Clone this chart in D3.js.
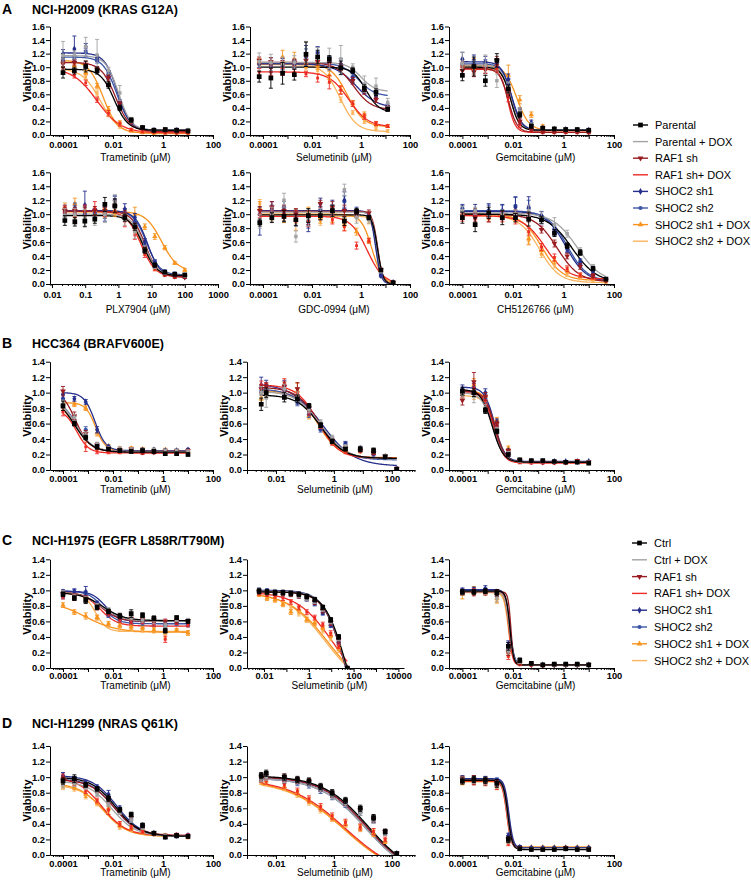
<!DOCTYPE html>
<html><head><meta charset="utf-8">
<script src="https://cdn.jsdelivr.net/npm/d3@7"></script>
<style>body{margin:0;background:#fff}svg{display:block}</style>
</head><body><svg id="c" width="751" height="884"></svg>
<script>
// ---------- series ----------
const seriesA = ["Parental","Parental + DOX","RAF1 sh","RAF1 sh+ DOX","SHOC2 sh1","SHOC2 sh2","SHOC2 sh1 + DOX","SHOC2 sh2 + DOX"];
const seriesC = ["Ctrl","Ctrl + DOX","RAF1 sh","RAF1 sh+ DOX","SHOC2 sh1","SHOC2 sh2","SHOC2 sh1 + DOX","SHOC2 sh2 + DOX"];
const colors = ["#000000","#a3a3a3","#9a1c20","#ee2b25","#262f8c","#3d57a7","#f7931e","#fbb45e"];
const legendMarker = ["square",null,"tri",null,"diamond","circle","star",null];
const plotMarker = ["square","square","tri","dash","diamond","circle","star","dash"];

// ---------- tick labels ----------
const yTicks16 = [0,0.2,0.4,0.6,0.8,1.0,1.2,1.4,1.6];
const yTicks14 = [0,0.2,0.4,0.6,0.8,1.0,1.2,1.4];
const xLabTram = [0.0001,0.01,1,100];
const xLabPLX = [0.01,0.1,1,10,100,1000];
const xLabSelB = [0.01,1,100];
const xLabSelC = [0.01,1,100,10000];

// ---------- doses ----------
const doseTram = [0.0001,0.000285,0.000811,0.00231,0.00658,0.0187,0.0534,0.152,0.433,1.23,3.51,10];
const doseSelA = [0.00007,0.00021,0.00063,0.0019,0.0057,0.017,0.051,0.15,0.46,1.37,4.1,12.3];
const dosePLX = [0.0244,0.0488,0.0977,0.195,0.391,0.781,1.56,3.13,6.25,12.5,25,50,100];
const doseGDC = [0.000074,0.00023,0.00072,0.0022,0.0071,0.022,0.068,0.21,0.66,2.1,6.5,20.4];
const doseCH = [0.0001,0.00032,0.0011,0.0038,0.0126,0.042,0.135,0.44,1.4,4.6,14.8,48];
const doseSelB = [0.0031,0.0046,0.0195,0.055,0.138,0.347,0.871,2.51,8.13,23.4,58.9,148];
const doseSelC = [0.006,0.0136,0.031,0.07,0.158,0.36,0.81,1.84,4.2,9.5,21.5,52];

// ---------- values (order: series list) ----------
const a1Val = [
 [0.92,0.95,1.01,0.95,0.74,0.40,0.22,0.11,0.07,0.08,0.07,0.06],
 [1.17,1.18,1.30,1.18,0.95,0.62,0.22,0.12,0.08,0.09,0.08,0.07],
 [1.05,1.07,1.04,0.97,0.85,0.46,0.20,0.10,0.06,0.06,0.05,0.05],
 [0.97,0.88,0.77,0.52,0.32,0.16,0.08,0.05,0.04,0.03,0.03,0.03],
 [1.20,1.27,1.30,1.13,0.88,0.45,0.20,0.10,0.07,0.07,0.07,0.06],
 [1.10,1.12,1.22,1.10,0.90,0.48,0.22,0.11,0.07,0.07,0.07,0.06],
 [1.10,1.02,0.92,0.72,0.38,0.18,0.07,0.04,0.03,0.04,0.05,0.05],
 [0.98,0.94,0.85,0.62,0.30,0.12,0.05,0.03,0.02,0.02,0.02,0.02]];
const a1Err = [
 [0.08,0.05,0.08,0.05,0.05,0.04,0.03,0.02,0.02,0.02,0.02,0.02],
 [0.21,0.06,0.14,0.23,0.05,0.11,0.04,0.02,0.02,0.02,0.02,0.02],
 [0.04,0.04,0.05,0.04,0.04,0.04,0.03,0.02,0.02,0.02,0.02,0.02],
 [0.03,0.04,0.04,0.04,0.04,0.03,0.02,0.02,0.01,0.01,0.01,0.01],
 [0.06,0.19,0.05,0.04,0.05,0.04,0.03,0.02,0.02,0.02,0.02,0.02],
 [0.05,0.04,0.06,0.04,0.05,0.04,0.03,0.02,0.02,0.02,0.02,0.02],
 [0.03,0.03,0.03,0.04,0.04,0.03,0.02,0.01,0.01,0.01,0.01,0.01],
 [0.02,0.02,0.03,0.03,0.03,0.02,0.01,0.01,0.01,0.01,0.01,0.01]];
const a1Fit = [[0.97,0.07,-1.95,1.6],[1.17,0.07,-1.78,1.7],[1.07,0.05,-1.9,1.5],[0.99,0.03,-2.65,0.9],[1.21,0.06,-1.82,1.7],[1.15,0.07,-1.85,1.6],[1.1,0.03,-2.4,1.5],[0.98,0.02,-2.5,1.2]];

const a2Val = [
 [0.86,0.84,0.91,0.89,1.19,1.15,1.12,0.99,0.95,0.69,0.63,0.38],
 [1.08,1.07,1.05,1.07,1.20,1.17,1.13,1.12,1.00,0.75,0.72,0.48],
 [1.10,1.08,1.05,1.07,1.10,1.08,1.06,1.00,0.80,0.65,0.52,0.40],
 [0.93,0.93,0.93,0.92,0.90,0.84,0.78,0.66,0.46,0.27,0.17,0.13],
 [1.05,1.04,1.05,1.05,1.17,1.20,1.06,1.05,0.82,0.66,0.60,0.40],
 [1.05,1.00,1.02,1.04,1.15,1.22,1.08,1.02,0.85,0.70,0.58,0.42],
 [1.08,1.05,1.15,1.12,1.05,1.02,0.88,0.67,0.47,0.30,0.16,0.13],
 [1.04,1.03,1.04,1.03,1.00,0.95,0.80,0.52,0.33,0.20,0.10,0.06]];
const a2Err = [
 [0.08,0.15,0.16,0.08,0.18,0.10,0.05,0.10,0.04,0.05,0.05,0.03],
 [0.13,0.12,0.10,0.10,0.18,0.12,0.15,0.20,0.05,0.12,0.12,0.06],
 [0.05,0.06,0.05,0.05,0.06,0.05,0.05,0.05,0.05,0.05,0.04,0.03],
 [0.05,0.05,0.05,0.05,0.04,0.06,0.10,0.06,0.04,0.04,0.03,0.02],
 [0.06,0.10,0.08,0.06,0.15,0.10,0.10,0.08,0.05,0.05,0.05,0.04],
 [0.06,0.08,0.08,0.06,0.12,0.08,0.08,0.10,0.05,0.05,0.05,0.04],
 [0.05,0.05,0.10,0.10,0.06,0.05,0.06,0.06,0.04,0.04,0.03,0.02],
 [0.04,0.04,0.04,0.04,0.04,0.04,0.04,0.04,0.03,0.03,0.02,0.02]];
const a2Fit = [[1.0,0.33,0.2,1.6],[1.07,0.64,0.0,1.5],[1.07,0.37,-0.3,1.2],[0.93,0.12,-0.5,1.1],[1.05,0.4,-0.2,1.0],[1.06,0.57,-0.1,1.3],[1.05,0.12,-0.55,1.3],[1.04,0.05,-0.85,1.3]];

const a3Val = [
 [0.88,1.01,0.80,1.10,0.68,0.30,0.13,0.10,0.09,0.08,0.08,0.07],
 [1.05,1.00,1.03,0.80,0.70,0.35,0.15,0.10,0.09,0.08,0.08,0.07],
 [0.95,0.93,0.97,1.10,0.62,0.20,0.08,0.05,0.05,0.05,0.05,0.04],
 [0.95,0.95,0.96,0.98,0.55,0.15,0.06,0.04,0.04,0.04,0.04,0.04],
 [1.12,1.10,1.08,1.05,0.82,0.35,0.18,0.10,0.08,0.08,0.07,0.07],
 [1.05,1.05,1.05,1.00,0.75,0.33,0.15,0.10,0.08,0.08,0.07,0.07],
 [1.02,1.05,1.02,1.00,0.88,0.52,0.30,0.13,0.09,0.08,0.07,0.07],
 [1.00,1.00,1.00,0.98,0.78,0.35,0.15,0.08,0.07,0.06,0.06,0.06]];
const a3Err = [
 [0.08,0.14,0.08,0.10,0.06,0.04,0.03,0.02,0.02,0.02,0.02,0.02],
 [0.17,0.10,0.15,0.10,0.08,0.05,0.03,0.02,0.02,0.02,0.02,0.02],
 [0.08,0.07,0.06,0.06,0.06,0.04,0.02,0.02,0.02,0.02,0.02,0.02],
 [0.05,0.05,0.05,0.05,0.06,0.04,0.02,0.02,0.02,0.02,0.02,0.02],
 [0.10,0.08,0.08,0.06,0.08,0.05,0.04,0.02,0.02,0.02,0.02,0.02],
 [0.06,0.06,0.06,0.06,0.08,0.05,0.03,0.02,0.02,0.02,0.02,0.02],
 [0.06,0.08,0.06,0.06,0.15,0.06,0.04,0.02,0.02,0.02,0.02,0.02],
 [0.04,0.04,0.04,0.04,0.06,0.04,0.03,0.02,0.02,0.02,0.02,0.02]];
const a3Fit = [[1.0,0.07,-2.1,2.5],[1.02,0.07,-2.1,2.5],[0.98,0.04,-2.18,2.5],[0.97,0.04,-2.2,3],[1.08,0.07,-2.05,2.2],[1.05,0.07,-2.05,2.3],[1.03,0.07,-1.85,1.8],[1.0,0.06,-2.05,2.2]];

const a4Val = [
 [0.91,0.89,0.90,0.93,1.14,1.12,0.95,0.82,0.48,0.27,0.17,0.14,0.13],
 [0.98,1.00,0.95,0.92,1.00,1.18,0.92,0.75,0.50,0.25,0.16,0.14,0.12],
 [1.05,1.05,1.03,1.05,1.05,1.10,1.00,0.82,0.50,0.25,0.14,0.11,0.10],
 [1.07,1.02,1.05,1.08,1.03,1.12,0.90,0.70,0.42,0.22,0.13,0.10,0.10],
 [1.05,1.02,1.13,1.00,1.00,1.18,1.07,0.95,0.60,0.30,0.16,0.12,0.10],
 [1.02,1.08,1.00,1.02,1.02,1.20,1.02,0.90,0.55,0.32,0.18,0.15,0.13],
 [1.10,1.15,1.05,1.05,1.02,1.05,1.02,1.00,0.82,0.68,0.52,0.30,0.20],
 [1.00,0.98,1.00,0.98,1.00,1.05,0.95,0.78,0.45,0.22,0.14,0.12,0.11]];
const a4Err = [
 [0.07,0.06,0.08,0.06,0.10,0.10,0.05,0.05,0.04,0.03,0.02,0.02,0.02],
 [0.10,0.08,0.12,0.08,0.12,0.10,0.08,0.10,0.05,0.03,0.02,0.02,0.02],
 [0.05,0.05,0.06,0.06,0.05,0.06,0.05,0.05,0.04,0.03,0.02,0.02,0.02],
 [0.05,0.06,0.08,0.10,0.06,0.08,0.08,0.06,0.04,0.03,0.02,0.02,0.02],
 [0.08,0.10,0.20,0.08,0.10,0.08,0.08,0.06,0.05,0.03,0.02,0.02,0.02],
 [0.06,0.08,0.10,0.06,0.08,0.06,0.06,0.06,0.05,0.03,0.02,0.02,0.02],
 [0.06,0.08,0.06,0.06,0.06,0.08,0.06,0.10,0.04,0.04,0.03,0.02,0.02],
 [0.05,0.05,0.05,0.05,0.05,0.05,0.05,0.05,0.04,0.03,0.02,0.02,0.02]];
const a4Fit = [[0.98,0.12,0.75,2.2],[1.0,0.12,0.78,2.2],[1.04,0.1,0.8,2.2],[1.04,0.1,0.68,2.0],[1.05,0.1,0.88,2.3],[1.05,0.13,0.85,2.2],[1.04,0.18,1.3,1.8],[1.03,0.12,0.72,2.0]];

const a5Val = [
 [0.88,0.95,0.97,0.92,0.98,0.98,1.05,0.90,1.04,0.95,0.20,0.02],
 [0.90,1.00,1.20,0.68,0.95,1.00,1.05,1.35,0.95,0.92,0.18,0.02],
 [1.05,1.10,1.05,1.00,0.95,1.15,1.10,1.05,1.00,1.02,0.20,0.02],
 [1.00,1.00,1.00,0.97,0.90,0.98,0.92,0.82,0.55,0.62,0.20,0.02],
 [0.88,1.08,1.00,0.93,0.85,1.15,1.10,1.20,1.05,0.98,0.12,0.02],
 [1.00,1.05,1.10,0.98,0.90,1.05,1.05,1.18,1.02,0.95,0.13,0.02],
 [1.08,1.02,0.98,0.92,1.00,0.95,0.98,0.85,0.75,0.62,0.20,0.02],
 [1.15,0.96,0.97,0.93,0.97,0.90,0.95,0.88,0.95,0.90,0.18,0.02]];
const a5Err = [
 [0.05,0.07,0.08,0.08,0.10,0.06,0.08,0.06,0.04,0.03,0.02,0.01],
 [0.10,0.10,0.10,0.08,0.12,0.08,0.08,0.08,0.08,0.05,0.02,0.01],
 [0.06,0.08,0.08,0.08,0.10,0.05,0.08,0.08,0.05,0.04,0.02,0.01],
 [0.05,0.06,0.06,0.08,0.08,0.06,0.06,0.06,0.05,0.03,0.02,0.01],
 [0.18,0.10,0.10,0.10,0.10,0.08,0.10,0.12,0.05,0.04,0.02,0.01],
 [0.10,0.08,0.08,0.08,0.10,0.06,0.08,0.08,0.05,0.04,0.02,0.01],
 [0.10,0.08,0.10,0.15,0.10,0.08,0.10,0.08,0.05,0.04,0.02,0.01],
 [0.06,0.06,0.06,0.06,0.06,0.06,0.06,0.06,0.05,0.04,0.02,0.01]];
const a5Fit = [[0.99,0,0.68,4],[1.03,0,0.66,4],[1.04,0,0.68,4],[0.97,0,0.25,1.3],[1.05,0,0.6,4],[1.04,0,0.62,4],[1.0,0,0.45,2],[0.97,0,0.65,4]];

const a6Val = [
 [0.95,0.85,1.02,0.95,0.95,0.93,0.92,0.73,0.55,0.45,0.22,0.07],
 [1.05,1.05,1.00,1.00,1.00,1.05,0.95,0.85,0.72,0.48,0.25,0.07],
 [0.98,0.95,0.95,0.98,1.00,0.95,0.78,0.58,0.40,0.25,0.12,0.05],
 [0.95,0.98,0.95,0.95,0.92,0.75,0.53,0.38,0.22,0.13,0.09,0.07],
 [1.05,1.06,1.05,1.04,1.10,1.10,0.98,0.75,0.50,0.32,0.15,0.06],
 [1.08,1.00,1.05,1.05,1.12,1.08,0.92,0.78,0.52,0.30,0.14,0.07],
 [1.00,1.02,0.98,1.00,0.95,0.65,0.48,0.34,0.20,0.12,0.08,0.05],
 [0.98,0.98,0.97,0.97,0.95,0.62,0.42,0.27,0.14,0.08,0.04,0.02]];
const a6Err = [
 [0.08,0.10,0.08,0.10,0.06,0.10,0.05,0.05,0.04,0.04,0.03,0.02],
 [0.06,0.05,0.05,0.06,0.06,0.08,0.08,0.10,0.05,0.04,0.03,0.02],
 [0.05,0.06,0.06,0.06,0.06,0.06,0.05,0.05,0.04,0.04,0.03,0.02],
 [0.05,0.06,0.06,0.06,0.06,0.05,0.05,0.05,0.04,0.03,0.02,0.02],
 [0.08,0.08,0.10,0.10,0.15,0.15,0.06,0.05,0.05,0.04,0.03,0.02],
 [0.06,0.06,0.08,0.08,0.12,0.12,0.06,0.05,0.05,0.04,0.03,0.02],
 [0.05,0.06,0.06,0.06,0.06,0.08,0.05,0.05,0.04,0.03,0.02,0.02],
 [0.04,0.04,0.04,0.04,0.04,0.06,0.04,0.04,0.03,0.02,0.02,0.02]];
const a6Fit = [[1.0,0.02,0.35,0.9],[1.02,0.02,0.55,0.9],[1.0,0.03,-0.25,1.0],[0.98,0.07,-0.72,1.0],[1.04,0.03,0.1,1.1],[1.05,0.04,0.15,1.1],[1.0,0.05,-0.85,1.1],[0.98,0.02,-0.95,1.1]];

const b1Val = [
 [0.83,0.60,0.42,0.30,0.27,0.25,0.24,0.25,0.24,0.21,0.21,0.20],
 [0.85,0.68,0.45,0.33,0.28,0.27,0.26,0.26,0.26,0.25,0.25,0.24],
 [1.02,0.70,0.47,0.32,0.28,0.26,0.27,0.23,0.23,0.24,0.24,0.25],
 [0.75,0.65,0.30,0.24,0.23,0.23,0.26,0.22,0.24,0.23,0.24,0.24],
 [0.98,0.92,0.88,0.52,0.30,0.26,0.26,0.26,0.26,0.25,0.25,0.26],
 [0.92,0.65,0.52,0.32,0.28,0.26,0.27,0.25,0.25,0.24,0.24,0.25],
 [0.85,0.85,0.80,0.48,0.30,0.28,0.28,0.27,0.26,0.26,0.25,0.25],
 [0.80,0.65,0.45,0.30,0.27,0.25,0.25,0.26,0.25,0.25,0.24,0.25]];
const b1Err = [
 [0.06,0.03,0.03,0.03,0.02,0.02,0.02,0.02,0.02,0.02,0.02,0.02],
 [0.05,0.04,0.04,0.03,0.02,0.03,0.03,0.02,0.02,0.02,0.02,0.02],
 [0.06,0.05,0.04,0.03,0.02,0.02,0.02,0.02,0.02,0.02,0.02,0.02],
 [0.05,0.05,0.06,0.03,0.02,0.02,0.03,0.02,0.02,0.02,0.02,0.02],
 [0.05,0.03,0.03,0.04,0.02,0.02,0.02,0.02,0.02,0.02,0.02,0.02],
 [0.06,0.04,0.04,0.03,0.02,0.02,0.02,0.02,0.02,0.02,0.02,0.02],
 [0.05,0.03,0.03,0.04,0.03,0.02,0.02,0.02,0.02,0.02,0.02,0.02],
 [0.04,0.04,0.04,0.03,0.02,0.02,0.02,0.02,0.02,0.02,0.02,0.02]];
const b1Fit = [[0.95,0.23,-3.55,1.2],[0.95,0.24,-3.5,1.3],[1.05,0.24,-3.5,1.5],[0.78,0.22,-3.45,1.8],[1.0,0.25,-2.72,2.0],[0.92,0.24,-3.45,1.4],[0.87,0.25,-2.7,2.2],[0.85,0.25,-3.45,1.5]];

const b2Val = [
 [0.85,1.00,0.94,0.92,0.83,0.58,0.37,0.27,0.27,0.25,0.17,0.01],
 [1.00,0.93,1.05,0.95,0.78,0.62,0.42,0.30,0.28,0.27,0.18,0.02],
 [1.05,1.08,1.08,1.05,0.80,0.58,0.38,0.28,0.25,0.22,0.18,0.02],
 [1.10,1.07,1.12,1.00,0.75,0.57,0.35,0.24,0.26,0.22,0.17,0.02],
 [1.10,1.10,1.10,0.90,0.75,0.55,0.40,0.33,0.28,0.22,0.17,0.02],
 [1.02,1.05,1.03,0.88,0.72,0.52,0.38,0.34,0.26,0.20,0.17,0.02],
 [0.92,1.05,1.05,1.02,0.70,0.55,0.36,0.25,0.25,0.23,0.18,0.02],
 [0.95,0.98,1.00,0.97,0.72,0.57,0.38,0.27,0.26,0.24,0.17,0.02]];
const b2Err = [
 [0.08,0.06,0.06,0.05,0.03,0.03,0.03,0.02,0.03,0.03,0.02,0.01],
 [0.08,0.12,0.06,0.06,0.04,0.03,0.03,0.03,0.03,0.02,0.02,0.01],
 [0.05,0.05,0.06,0.08,0.04,0.03,0.03,0.03,0.02,0.02,0.02,0.01],
 [0.05,0.05,0.06,0.06,0.04,0.03,0.03,0.03,0.02,0.02,0.02,0.01],
 [0.10,0.06,0.06,0.05,0.04,0.03,0.03,0.03,0.02,0.02,0.02,0.01],
 [0.05,0.05,0.05,0.05,0.04,0.03,0.03,0.03,0.02,0.02,0.02,0.01],
 [0.06,0.06,0.06,0.10,0.04,0.03,0.03,0.03,0.03,0.03,0.02,0.01],
 [0.05,0.05,0.05,0.05,0.04,0.03,0.03,0.03,0.02,0.02,0.02,0.01]];
const b2Fit = [[0.97,0.15,-0.45,1.1],[1.02,0.14,-0.45,1.0],[1.07,0.15,-0.5,1.1],[1.1,0.15,-0.55,1.2],[1.12,0.05,-0.4,0.8],[1.05,0.13,-0.5,1.0],[1.03,0.16,-0.55,1.2],[1.02,0.15,-0.5,1.1]];

const b3Val = [
 [1.02,1.00,0.77,0.50,0.20,0.13,0.12,0.12,0.11,0.10,0.10,0.09],
 [0.98,0.95,0.80,0.52,0.22,0.12,0.11,0.11,0.10,0.10,0.10,0.10],
 [0.90,1.14,0.95,0.60,0.25,0.12,0.11,0.10,0.10,0.10,0.12,0.10],
 [0.98,1.05,0.90,0.58,0.22,0.10,0.09,0.09,0.09,0.09,0.10,0.10],
 [1.05,1.07,1.00,0.62,0.25,0.12,0.11,0.11,0.11,0.11,0.11,0.11],
 [1.00,1.02,0.92,0.55,0.22,0.12,0.11,0.10,0.10,0.10,0.10,0.10],
 [0.98,1.10,0.95,0.65,0.28,0.12,0.11,0.11,0.10,0.10,0.10,0.10],
 [0.95,0.95,0.92,0.60,0.25,0.11,0.10,0.10,0.10,0.10,0.10,0.10]];
const b3Err = [
 [0.05,0.05,0.04,0.03,0.02,0.02,0.01,0.01,0.01,0.01,0.01,0.01],
 [0.05,0.08,0.05,0.03,0.02,0.02,0.01,0.01,0.01,0.01,0.01,0.01],
 [0.06,0.12,0.05,0.03,0.02,0.02,0.01,0.01,0.01,0.01,0.01,0.01],
 [0.05,0.06,0.05,0.03,0.02,0.02,0.01,0.01,0.01,0.01,0.01,0.01],
 [0.05,0.05,0.05,0.04,0.02,0.02,0.01,0.01,0.01,0.01,0.01,0.01],
 [0.04,0.04,0.05,0.03,0.02,0.02,0.01,0.01,0.01,0.01,0.01,0.01],
 [0.05,0.08,0.05,0.03,0.03,0.02,0.01,0.01,0.01,0.01,0.01,0.01],
 [0.04,0.04,0.04,0.03,0.02,0.02,0.01,0.01,0.01,0.01,0.01,0.01]];
const b3Fit = [[1.04,0.1,-2.82,2.0],[1.0,0.1,-2.8,2.0],[1.02,0.1,-2.72,2.2],[1.0,0.09,-2.75,2.3],[1.07,0.11,-2.72,2.2],[1.02,0.1,-2.76,2.2],[1.03,0.1,-2.7,2.2],[0.96,0.1,-2.72,2.2]];

const c1Val = [
 [0.95,0.90,0.87,0.78,0.73,0.67,0.70,0.68,0.64,0.48,0.65,0.60],
 [0.97,0.92,0.88,0.80,0.75,0.68,0.65,0.62,0.62,0.55,0.62,0.62],
 [0.96,0.93,0.90,0.80,0.72,0.66,0.64,0.63,0.62,0.60,0.60,0.61],
 [0.92,0.90,0.88,0.78,0.70,0.62,0.60,0.60,0.57,0.37,0.58,0.55],
 [0.98,0.98,0.98,0.83,0.70,0.64,0.60,0.62,0.60,0.58,0.60,0.60],
 [0.92,0.98,0.95,0.82,0.68,0.62,0.60,0.58,0.57,0.55,0.57,0.55],
 [0.81,0.72,0.67,0.65,0.57,0.55,0.53,0.52,0.49,0.47,0.49,0.45],
 [0.95,0.93,0.90,0.65,0.55,0.50,0.50,0.49,0.48,0.40,0.48,0.46]];
const c1Err = [
 [0.03,0.03,0.04,0.03,0.03,0.03,0.05,0.03,0.03,0.03,0.02,0.02],
 [0.03,0.03,0.04,0.03,0.03,0.03,0.03,0.03,0.05,0.03,0.02,0.02],
 [0.03,0.03,0.03,0.03,0.03,0.03,0.03,0.03,0.03,0.03,0.02,0.02],
 [0.03,0.03,0.03,0.03,0.03,0.03,0.03,0.03,0.03,0.04,0.02,0.02],
 [0.03,0.04,0.07,0.03,0.03,0.03,0.03,0.03,0.03,0.03,0.02,0.02],
 [0.03,0.03,0.04,0.03,0.03,0.03,0.03,0.03,0.03,0.03,0.02,0.02],
 [0.03,0.03,0.04,0.03,0.03,0.03,0.03,0.03,0.03,0.03,0.02,0.03],
 [0.03,0.03,0.03,0.03,0.03,0.03,0.03,0.03,0.03,0.03,0.02,0.02]];
const c1Fit = [[0.97,0.61,-2.4,1.0],[0.98,0.6,-2.45,1.0],[0.98,0.6,-2.5,1.2],[0.97,0.54,-2.5,1.3],[0.99,0.6,-2.3,1.6],[0.99,0.57,-2.4,1.5],[0.86,0.46,-3.1,0.7],[0.96,0.47,-2.7,2.0]];

const c2Val = [
 [0.99,0.98,0.97,0.97,0.96,0.95,0.92,0.88,0.78,0.62,0.40,0.00],
 [1.00,0.98,0.98,0.97,0.96,0.94,0.90,0.86,0.76,0.60,0.38,0.00],
 [0.98,0.97,0.97,0.96,0.95,0.93,0.90,0.85,0.74,0.58,0.36,0.00],
 [0.97,0.95,0.93,0.90,0.85,0.78,0.72,0.65,0.56,0.45,0.28,0.00],
 [1.00,0.99,0.98,0.97,0.96,0.94,0.90,0.84,0.72,0.56,0.34,0.00],
 [0.99,0.98,0.97,0.96,0.95,0.93,0.89,0.83,0.71,0.55,0.33,0.00],
 [0.95,0.90,0.88,0.82,0.72,0.75,0.62,0.58,0.52,0.42,0.26,0.00],
 [0.96,0.92,0.88,0.84,0.78,0.70,0.64,0.56,0.48,0.38,0.23,0.00]];
const c2Err = [
 [0.03,0.03,0.03,0.03,0.03,0.03,0.03,0.03,0.03,0.03,0.03,0.01],
 [0.03,0.03,0.03,0.03,0.03,0.03,0.03,0.03,0.03,0.03,0.03,0.01],
 [0.03,0.03,0.03,0.03,0.03,0.03,0.03,0.03,0.03,0.03,0.03,0.01],
 [0.03,0.03,0.03,0.03,0.03,0.03,0.03,0.03,0.03,0.03,0.03,0.01],
 [0.03,0.03,0.03,0.03,0.03,0.03,0.03,0.03,0.03,0.03,0.03,0.01],
 [0.03,0.03,0.03,0.03,0.03,0.03,0.03,0.03,0.03,0.03,0.03,0.01],
 [0.03,0.03,0.03,0.03,0.03,0.04,0.03,0.03,0.03,0.03,0.03,0.01],
 [0.03,0.03,0.03,0.03,0.03,0.03,0.03,0.03,0.03,0.03,0.03,0.01]];
const c2Fit = [[0.98,-0.8,1.62,0.95],[0.99,-0.8,1.6,0.95],[0.98,-0.8,1.58,0.95],[0.98,-0.3,1.05,0.55],[1.0,-0.8,1.57,0.95],[0.99,-0.8,1.56,0.95],[0.97,-0.3,0.85,0.5],[0.98,-0.3,0.75,0.5]];

const c3Val = [
 [0.98,0.98,0.99,0.97,0.28,0.10,0.06,0.04,0.05,0.05,0.05,0.04],
 [0.97,0.98,0.98,0.90,0.22,0.08,0.05,0.04,0.04,0.04,0.04,0.04],
 [0.97,0.96,0.97,0.98,0.20,0.06,0.04,0.03,0.04,0.04,0.04,0.04],
 [0.98,0.99,0.98,0.95,0.15,0.05,0.04,0.04,0.04,0.04,0.04,0.04],
 [1.00,1.01,1.02,0.98,0.30,0.08,0.05,0.04,0.04,0.04,0.04,0.04],
 [0.99,1.00,1.00,0.95,0.28,0.08,0.05,0.04,0.04,0.04,0.04,0.04],
 [0.95,1.00,0.98,0.90,0.20,0.07,0.05,0.04,0.04,0.04,0.04,0.04],
 [0.97,0.98,0.97,0.88,0.18,0.06,0.04,0.04,0.04,0.04,0.04,0.04]];
const c3Err = [
 [0.03,0.03,0.03,0.04,0.05,0.03,0.02,0.01,0.01,0.01,0.01,0.01],
 [0.03,0.03,0.03,0.05,0.04,0.02,0.01,0.01,0.01,0.01,0.01,0.01],
 [0.03,0.03,0.03,0.03,0.04,0.02,0.01,0.01,0.01,0.01,0.01,0.01],
 [0.03,0.03,0.03,0.03,0.04,0.02,0.01,0.01,0.01,0.01,0.01,0.01],
 [0.03,0.03,0.04,0.03,0.05,0.02,0.01,0.01,0.01,0.01,0.01,0.01],
 [0.03,0.03,0.03,0.03,0.05,0.02,0.01,0.01,0.01,0.01,0.01,0.01],
 [0.06,0.05,0.03,0.05,0.04,0.02,0.01,0.01,0.01,0.01,0.01,0.01],
 [0.03,0.03,0.03,0.05,0.04,0.02,0.01,0.01,0.01,0.01,0.01,0.01]];
const c3Fit = [[0.99,0.04,-2.12,6],[0.98,0.04,-2.14,5],[0.98,0.04,-2.08,8],[0.98,0.04,-2.16,6],[1.01,0.04,-2.12,5],[1.0,0.04,-2.13,5],[0.98,0.04,-2.16,5],[0.97,0.04,-2.18,5]];

const d1Val = [
 [0.95,0.98,0.90,0.85,0.73,0.58,0.52,0.38,0.28,0.23,0.25,0.24],
 [0.90,0.92,0.87,0.78,0.65,0.55,0.45,0.35,0.28,0.25,0.24,0.24],
 [0.97,0.95,0.90,0.83,0.70,0.56,0.48,0.36,0.28,0.24,0.25,0.24],
 [1.00,0.92,0.82,0.70,0.58,0.40,0.35,0.30,0.27,0.25,0.26,0.25],
 [1.02,0.98,0.93,0.87,0.78,0.60,0.50,0.38,0.28,0.24,0.25,0.25],
 [0.97,0.95,0.90,0.83,0.72,0.57,0.45,0.37,0.27,0.23,0.24,0.24],
 [0.90,0.87,0.78,0.68,0.60,0.38,0.34,0.30,0.28,0.25,0.25,0.23],
 [0.88,0.85,0.75,0.66,0.55,0.36,0.33,0.29,0.27,0.25,0.25,0.23]];
const d1Err = [
 [0.04,0.05,0.03,0.03,0.04,0.03,0.03,0.03,0.02,0.02,0.02,0.02],
 [0.04,0.04,0.03,0.03,0.03,0.03,0.03,0.02,0.02,0.02,0.02,0.02],
 [0.04,0.03,0.03,0.03,0.03,0.03,0.03,0.02,0.02,0.02,0.02,0.02],
 [0.04,0.03,0.03,0.03,0.06,0.03,0.03,0.02,0.02,0.02,0.02,0.02],
 [0.04,0.03,0.03,0.03,0.05,0.03,0.03,0.02,0.02,0.02,0.02,0.02],
 [0.04,0.03,0.03,0.03,0.03,0.03,0.03,0.02,0.02,0.02,0.02,0.02],
 [0.04,0.03,0.04,0.03,0.03,0.03,0.03,0.02,0.02,0.02,0.02,0.02],
 [0.04,0.03,0.03,0.03,0.03,0.03,0.03,0.02,0.02,0.02,0.02,0.02]];
const d1Fit = [[1.0,0.24,-1.9,0.9],[0.95,0.24,-2.05,0.9],[0.97,0.25,-1.95,0.9],[1.0,0.25,-2.45,0.9],[1.02,0.24,-1.85,0.9],[0.98,0.24,-1.95,0.9],[0.92,0.24,-2.4,0.9],[0.9,0.24,-2.35,0.9]];

const d2Val = [
 [1.02,1.05,1.00,0.97,0.95,0.88,0.80,0.70,0.60,0.48,0.30,0.02],
 [0.98,1.00,0.97,0.95,0.92,0.85,0.76,0.66,0.55,0.45,0.28,0.02],
 [1.00,1.02,1.00,0.96,0.94,0.86,0.78,0.68,0.58,0.46,0.30,0.02],
 [0.97,0.95,0.90,0.82,0.72,0.62,0.50,0.42,0.36,0.30,0.20,0.02],
 [1.00,1.02,0.98,0.95,0.92,0.86,0.78,0.68,0.58,0.46,0.30,0.02],
 [0.98,1.00,0.96,0.93,0.90,0.83,0.75,0.65,0.55,0.45,0.28,0.02],
 [0.95,0.95,0.88,0.80,0.70,0.60,0.48,0.40,0.35,0.28,0.18,0.02],
 [0.95,0.93,0.87,0.78,0.68,0.58,0.47,0.40,0.34,0.28,0.18,0.02]];
const d2Err = [
 [0.04,0.04,0.04,0.04,0.04,0.04,0.04,0.04,0.04,0.04,0.03,0.01],
 [0.04,0.04,0.04,0.04,0.04,0.04,0.04,0.04,0.04,0.04,0.03,0.01],
 [0.04,0.04,0.04,0.04,0.04,0.04,0.04,0.04,0.04,0.04,0.03,0.01],
 [0.04,0.04,0.04,0.04,0.04,0.04,0.04,0.04,0.04,0.04,0.03,0.01],
 [0.04,0.04,0.04,0.04,0.04,0.04,0.04,0.04,0.04,0.04,0.03,0.01],
 [0.04,0.04,0.04,0.04,0.04,0.04,0.04,0.04,0.04,0.04,0.03,0.01],
 [0.04,0.04,0.04,0.04,0.04,0.04,0.04,0.04,0.04,0.04,0.03,0.01],
 [0.04,0.04,0.04,0.04,0.04,0.04,0.04,0.04,0.04,0.04,0.03,0.01]];
const d2Fit = [[1.02,-0.3,1.2,0.55],[0.99,-0.3,1.1,0.55],[1.01,-0.3,1.15,0.55],[0.98,-0.3,0.4,0.45],[1.01,-0.3,1.15,0.55],[0.99,-0.3,1.1,0.55],[0.97,-0.3,0.35,0.45],[0.96,-0.3,0.35,0.45]];

const d3Val = [
 [0.95,0.97,0.96,0.92,0.20,0.08,0.07,0.07,0.07,0.08,0.07,0.07],
 [0.96,0.96,0.95,0.90,0.18,0.08,0.08,0.08,0.08,0.08,0.08,0.08],
 [0.97,0.96,0.94,0.92,0.20,0.09,0.08,0.08,0.08,0.09,0.08,0.08],
 [0.96,0.95,0.95,0.88,0.15,0.08,0.08,0.08,0.08,0.08,0.08,0.08],
 [0.98,0.98,0.97,0.95,0.25,0.10,0.09,0.09,0.09,0.09,0.09,0.09],
 [0.97,0.97,0.96,0.94,0.22,0.10,0.09,0.09,0.09,0.09,0.09,0.09],
 [0.95,0.96,0.95,0.90,0.18,0.10,0.10,0.10,0.10,0.10,0.10,0.10],
 [0.94,0.95,0.94,0.88,0.16,0.10,0.10,0.10,0.10,0.10,0.10,0.10]];
const d3Err = [
 [0.04,0.04,0.04,0.05,0.04,0.02,0.01,0.01,0.01,0.01,0.01,0.01],
 [0.04,0.04,0.04,0.04,0.03,0.02,0.01,0.01,0.01,0.01,0.01,0.01],
 [0.04,0.06,0.05,0.04,0.03,0.02,0.01,0.01,0.01,0.01,0.01,0.01],
 [0.04,0.04,0.04,0.04,0.03,0.02,0.01,0.01,0.01,0.01,0.01,0.01],
 [0.04,0.04,0.04,0.04,0.03,0.02,0.01,0.01,0.01,0.01,0.01,0.01],
 [0.04,0.04,0.04,0.04,0.03,0.02,0.01,0.01,0.01,0.01,0.01,0.01],
 [0.04,0.04,0.04,0.04,0.03,0.02,0.01,0.01,0.01,0.01,0.01,0.01],
 [0.04,0.04,0.04,0.04,0.03,0.02,0.01,0.01,0.01,0.01,0.01,0.01]];
const d3Fit = [[0.96,0.07,-2.2,5],[0.96,0.08,-2.22,5],[0.96,0.08,-2.2,5],[0.95,0.08,-2.24,5],[0.98,0.09,-2.16,5],[0.97,0.09,-2.18,5],[0.95,0.1,-2.22,5],[0.94,0.1,-2.24,5]];

// ---------- drawing ----------
const FONT = '"Liberation Sans", Arial, Helvetica, sans-serif';
const svg = d3.select("#c");
svg.append("rect").attr("width",751).attr("height",884).attr("fill","#fff");

function sym(type, size){
  if(type==="square") return d3.symbol(d3.symbolSquare, size)();
  if(type==="tri") return d3.symbol(d3.symbolTriangle, size)();
  if(type==="diamond") return d3.symbol(d3.symbolDiamond, size)();
  if(type==="circle") return d3.symbol(d3.symbolCircle, size)();
  if(type==="star") return d3.symbol(d3.symbolTriangle, size)();
  return d3.symbol(d3.symbolSquare, size)();
}
const mSize = [22,12,14,8,14,14,12,8];

let clipId = 0;
function drawPanel(p){
  const x = d3.scaleLog().domain([p.lo,p.hi]).range([p.x0,p.x1]);
  const y = d3.scaleLinear().domain([0,p.ymax]).range([p.yb,p.yt]);
  const g = svg.append("g");
  const ya = d3.axisLeft(y).tickValues(p.yTicks).tickSize(4).tickSizeOuter(0).tickFormat(d3.format(".1f"));
  const yg = g.append("g").attr("transform",`translate(${p.x0},0)`).call(ya);
  yg.selectAll("text").attr("font-family",FONT).attr("font-weight","bold").attr("font-size",9.3).attr("fill","#000").attr("x",-5);
  yg.selectAll("path,line").attr("stroke","#000").attr("stroke-width",1);
  const e0 = Math.floor(Math.log10(p.lo)), e1 = Math.ceil(Math.log10(p.hi));
  const major=[], minor=[];
  for(let e=e0;e<=e1;e++){
    const b=Math.pow(10,e);
    if(b>=p.lo*0.999 && b<=p.hi*1.001) major.push(b);
    for(let k=2;k<=9;k++){const v=k*b; if(v>=p.lo && v<=p.hi) minor.push(v);}
  }
  const xg = g.append("g").attr("transform",`translate(0,${p.yb})`);
  xg.call(d3.axisBottom(x).tickValues(minor).tickSize(2).tickSizeOuter(0).tickFormat(""));
  const xg2 = g.append("g").attr("transform",`translate(0,${p.yb})`);
  xg2.call(d3.axisBottom(x).tickValues(major).tickSize(4).tickSizeOuter(0).tickFormat(d=>{
     const hit = p.xLab.find(v=>Math.abs(Math.log10(v)-Math.log10(d))<1e-6);
     return hit===undefined ? "" : String(hit);
  }));
  xg2.select(".domain").remove();
  g.selectAll("path.domain").attr("stroke","#000");
  xg.selectAll("line").attr("stroke","#000");
  xg2.selectAll("line").attr("stroke","#000");
  xg2.selectAll("text").attr("font-family",FONT).attr("font-weight","bold").attr("font-size",9.3).attr("fill","#000").attr("y",p.tickDy);
  g.append("text").attr("x",(p.x0+p.x1)/2+4).attr("y",p.titleY).attr("text-anchor","middle")
   .attr("font-family",FONT).attr("font-size",10).text(p.drug);
  g.append("text").attr("transform",`translate(${p.x0-19},${(p.yb+p.yt)/2}) rotate(-90)`).attr("text-anchor","middle")
   .attr("font-family",FONT).attr("font-weight","bold").attr("font-size",11).text("Viability");
  const cid = "clp"+(clipId++);
  g.append("clipPath").attr("id",cid).append("rect").attr("x",p.x0).attr("y",p.yt-30).attr("width",p.x1-p.x0+5).attr("height",p.yb-p.yt+30);
  const pg = g.append("g").attr("clip-path",`url(#${cid})`);
  const order=[7,6,5,4,3,2,1,0];
  const la = Math.log10(p.dose[0]), lb = Math.log10(p.dose[p.dose.length-1]);
  const samples = d3.range(0,161).map(i=>la+(lb-la)*i/160);
  order.forEach(s=>{
    const f = p.fit[s];
    const line = d3.line().x(l=>x(Math.pow(10,l))).y(l=>y(f[1]+(f[0]-f[1])/(1+Math.pow(10,(l-f[2])*f[3]))));
    pg.append("path").attr("d",line(samples)).attr("fill","none").attr("stroke",colors[s]).attr("stroke-width",1.3);
  });
  order.forEach(s=>{
    const c = colors[s];
    p.dose.forEach((d,i)=>{
      const v=p.val[s][i], e=p.err[s][i], cx=x(d);
      const y1=y(v+e), y2=y(Math.max(0,v-e));
      pg.append("line").attr("x1",cx).attr("x2",cx).attr("y1",y1).attr("y2",y2).attr("stroke",c).attr("stroke-width",0.9);
      pg.append("line").attr("x1",cx-2).attr("x2",cx+2).attr("y1",y1).attr("y2",y1).attr("stroke",c).attr("stroke-width",0.9);
      pg.append("line").attr("x1",cx-2).attr("x2",cx+2).attr("y1",y2).attr("y2",y2).attr("stroke",c).attr("stroke-width",0.9);
      const m = plotMarker[s];
      const rot = (m==="tri") ? " rotate(180)" : "";
      pg.append("path").attr("d",sym(m,mSize[s])).attr("transform",`translate(${cx},${y(v)})${rot}`).attr("fill",c);
    });
  });
}

function legend(names, x, y0, dy){
  names.forEach((n,i)=>{
    const yy = y0+dy*i;
    svg.append("line").attr("x1",x).attr("x2",x+15).attr("y1",yy).attr("y2",yy).attr("stroke",colors[i]).attr("stroke-width",1.4);
    if(legendMarker[i]){
      const rot = legendMarker[i]==="tri" ? " rotate(180)" : "";
      svg.append("path").attr("d",sym(legendMarker[i], i===0?22:14)).attr("transform",`translate(${x+7.5},${yy})${rot}`).attr("fill",colors[i]);
    }
    svg.append("text").attr("x",x+22).attr("y",yy+4).attr("font-family",FONT).attr("font-size",11).text(n);
  });
}

function header(letter, title, y){
  svg.append("text").attr("x",2).attr("y",y).attr("font-family",FONT).attr("font-weight","bold").attr("font-size",14).text(letter);
  svg.append("text").attr("x",32).attr("y",y).attr("font-family",FONT).attr("font-weight","bold").attr("font-size",12.5).text(title);
}

const rA1={yb:135,yt:26.5,ymax:1.6,yTicks:yTicks16,titleY:161,tickDy:6};
const rA2={yb:284,yt:172.3,ymax:1.6,yTicks:yTicks16,titleY:313,tickDy:7};
const rB={yb:470,yt:361.7,ymax:1.4,yTicks:yTicks14,titleY:493,tickDy:5};
const rC={yb:668,yt:559.3,ymax:1.4,yTicks:yTicks14,titleY:689,tickDy:4};
const rD={yb:855,yt:746,ymax:1.4,yTicks:yTicks14,titleY:876,tickDy:5};
const cT={x0:50,x1:213,lo:Math.pow(10,-4.52),hi:100,xLab:xLabTram};
const cS={x0:250,x1:410,lo:Math.pow(10,-4.53),hi:100,xLab:xLabTram};
const cG={x0:449,x1:614,lo:Math.pow(10,-4.53),hi:100,xLab:xLabTram};
const cP={x0:50,x1:218,lo:Math.pow(10,-2.06),hi:1000,xLab:xLabPLX};
const cSB={x0:247,x1:415,lo:0.001,hi:Math.pow(10,2.8),xLab:xLabSelB};
const cSC={x0:247,x1:404,lo:Math.pow(10,-2.76),hi:Math.pow(10,4.25),xLab:xLabSelC};

const panels = [
 Object.assign({},rA1,cT,{drug:"Trametinib (\u03bcM)",dose:doseTram,val:a1Val,err:a1Err,fit:a1Fit}),
 Object.assign({},rA1,cS,{drug:"Selumetinib (\u03bcM)",dose:doseSelA,val:a2Val,err:a2Err,fit:a2Fit}),
 Object.assign({},rA1,cG,{drug:"Gemcitabine (\u03bcM)",dose:doseTram,val:a3Val,err:a3Err,fit:a3Fit}),
 Object.assign({},rA2,cP,{drug:"PLX7904 (\u03bcM)",dose:dosePLX,val:a4Val,err:a4Err,fit:a4Fit}),
 Object.assign({},rA2,cS,{drug:"GDC-0994 (\u03bcM)",dose:doseGDC,val:a5Val,err:a5Err,fit:a5Fit}),
 Object.assign({},rA2,cG,{drug:"CH5126766 (\u03bcM)",dose:doseCH,val:a6Val,err:a6Err,fit:a6Fit}),
 Object.assign({},rB,cT,{drug:"Trametinib (\u03bcM)",dose:doseTram,val:b1Val,err:b1Err,fit:b1Fit}),
 Object.assign({},rB,cSB,{drug:"Selumetinib (\u03bcM)",dose:doseSelB,val:b2Val,err:b2Err,fit:b2Fit}),
 Object.assign({},rB,cG,{drug:"Gemcitabine (\u03bcM)",dose:doseTram,val:b3Val,err:b3Err,fit:b3Fit}),
 Object.assign({},rC,cT,{drug:"Trametinib (\u03bcM)",dose:doseTram,val:c1Val,err:c1Err,fit:c1Fit}),
 Object.assign({},rC,cSC,{drug:"Selumetinib (\u03bcM)",dose:doseSelC,val:c2Val,err:c2Err,fit:c2Fit}),
 Object.assign({},rC,cG,{drug:"Gemcitabine (\u03bcM)",dose:doseTram,val:c3Val,err:c3Err,fit:c3Fit}),
 Object.assign({},rD,cT,{drug:"Trametinib (\u03bcM)",dose:doseTram,val:d1Val,err:d1Err,fit:d1Fit}),
 Object.assign({},rD,cSB,{drug:"Selumetinib (\u03bcM)",dose:doseSelB,val:d2Val,err:d2Err,fit:d2Fit}),
 Object.assign({},rD,cG,{drug:"Gemcitabine (\u03bcM)",dose:doseTram,val:d3Val,err:d3Err,fit:d3Fit})
];
panels.forEach(drawPanel);

header("A","NCI-H2009 (KRAS G12A)",14);
header("B","HCC364 (BRAFV600E)",348);
header("C","NCI-H1975 (EGFR L858R/T790M)",545);
header("D","NCI-H1299 (NRAS Q61K)",728);
legend(seriesA,633,125,16.6);
legend(seriesC,632,543,16.8);
</script></body></html>
